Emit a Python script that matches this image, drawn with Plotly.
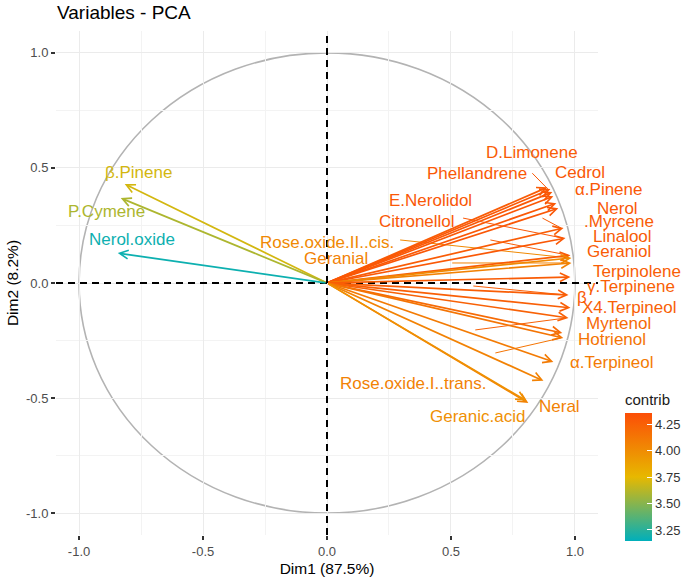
import plotly.graph_objects as go
from plotly.colors import sample_colorscale

# ---------------- data ----------------
variables = ["D.Limonene", "Phellandrene", "Cedrol", "α.Pinene", "E.Nerolidol", "Nerol",
             "β.Myrcene", "Citronellol", "Linalool", "Rose.oxide.II..cis.", "Geranial",
             "Geraniol", "Terpinolene", "γ.Terpinene", "X4.Terpineol", "Myrtenol",
             "Hotrienol", "α.Terpineol", "Rose.oxide.I..trans.", "Neral", "Geranic.acid",
             "β.Pinene", "P.Cymene", "Nerol.oxide"]
dim1 = [0.889, 0.901, 0.909, 0.913, 0.925, 0.933, 0.954, 0.962, 0.982, 0.986, 0.986,
        0.982, 0.974, 0.982, 0.974, 0.949, 0.953, 0.913, 0.873, 0.812, 0.804,
        -0.816, -0.832, -0.844]
dim2 = [0.416, 0.408, 0.395, 0.377, 0.347, 0.325, 0.239, 0.195, 0.121, 0.109, 0.087,
        0.026, -0.052, -0.108, -0.152, -0.217, -0.239, -0.343, -0.425, -0.521, -0.512,
        0.430, 0.369, 0.130]
contrib = [4.28, 4.30, 4.30, 4.30, 4.30, 4.31, 4.28, 4.30, 4.28, 4.02, 4.06,
           4.28, 4.27, 4.26, 4.25, 4.20, 4.14, 4.10, 4.06, 4.06, 3.98,
           3.70, 3.60, 3.18]
label_text = ["D.Limonene", "Phellandrene", "Cedrol", "α.Pinene", "E.Nerolidol", "Nerol",
              ".Myrcene", "Citronellol", "Linalool", "Rose.oxide.II..cis.", "Geranial",
              "Geraniol", "Terpinolene", "γ.Terpinene", "X4.Terpineol", "Myrtenol",
              "Hotrienol", "α.Terpineol", "Rose.oxide.I..trans.", "Neral", "Geranic.acid",
              "β.Pinene", "P.Cymene", "Nerol.oxide"]
x_ticks = [-1.0, -0.5, 0.0, 0.5, 1.0]
x_ticktext = ["-1.0", "-0.5", "0.0", "0.5", "1.0"]
y_ticks = [-1.0, -0.5, 0.0, 0.5, 1.0]
y_ticktext = ["-1.0", "-0.5", "0.0", "0.5", "1.0"]
cb_ticks = [3.25, 3.50, 3.75, 4.00, 4.25]
cb_ticktext = ["3.25", "3.50", "3.75", "4.00", "4.25"]

# ---------------- layout helpers (label placement, repel result) ----------------
# left edge / vertical centre of each label in data units
label_pos = [(0.634, 0.568), (0.396, 0.477), (0.913, 0.482), (0.994, 0.408), (0.242, 0.360),
             (1.079, 0.325), (1.030, 0.269), (0.202, 0.269), (1.063, 0.204), (-0.279, 0.178),
             (-0.101, 0.108), (1.042, 0.139), (1.063, 0.052), (1.042, -0.017), (1.022, -0.108),
             (1.038, -0.174), (1.006, -0.247), (0.974, -0.347), (0.044, -0.438), (0.848, -0.538),
             (0.408, -0.581), (-0.905, 0.482), (-1.051, 0.312), (-0.966, 0.191)]
# leader segments: (start x, start y, variable index)
leaders = [(0.828, 0.477, 1), (0.549, 0.282, 7), (0.869, 0.282, 6), (0.295, 0.187, 9),
           (0.659, 0.187, 8), (0.505, 0.087, 10), (0.590, -0.013, 12), (0.598, -0.204, 14),
           (0.679, -0.304, 16)]
stray_beta = (1.002, -0.065)

FONT = "Liberation Sans, Arial, sans-serif"
cmin, cmax = 3.145, 4.36
cscale = [[0.0, "#00AFBB"], [0.5, "#E7B800"], [1.0, "#FC4E07"]]
cols = sample_colorscale(cscale, [(c - cmin) / (cmax - cmin) for c in contrib])

XR = [-1.093, 1.093]
YR = [-1.095, 1.095]

W, H = 685, 577
ML, MR, MT, MB = 56, 87, 31, 42
PH = H - MT - MB

fig = go.Figure()

# invisible markers carrying the colour scale
fig.add_trace(go.Scatter(
    x=dim1, y=dim2, mode="markers", hoverinfo="skip", showlegend=False,
    marker=dict(size=1, opacity=0, color=contrib, colorscale=cscale, cmin=cmin, cmax=cmax,
                showscale=True,
                colorbar=dict(title=dict(text="contrib", side="top",
                                         font=dict(size=15, color="#1a1a1a", family=FONT)),
                              thickness=27, len=150, lenmode="pixels",
                              x=(625 - ML) / (W - ML - MR), xanchor="left", xpad=0,
                              y=(H - MB - 541) / PH, yanchor="bottom", ypad=0,
                              tickvals=cb_ticks, ticktext=cb_ticktext,
                              ticks="inside", ticklen=5, tickcolor="white",
                              tickfont=dict(size=13, color="#333333", family=FONT),
                              outlinewidth=0))))

shapes = []
# correlation circle
shapes.append(dict(type="circle", xref="x", yref="y", x0=-1, y0=-1, x1=1, y1=1,
                   line=dict(color="#B3B3B3", width=1.6), layer="below"))
# dashed axes through the origin
shapes.append(dict(type="line", xref="x", yref="y", x0=0, x1=0, y0=YR[0], y1=YR[1],
                   line=dict(color="black", width=2, dash="7px,5px")))
shapes.append(dict(type="line", xref="x", yref="y", x0=XR[0], x1=XR[1], y0=0, y1=0,
                   line=dict(color="black", width=2, dash="7px,5px")))
# leader segments
for sx, sy, i in leaders:
    shapes.append(dict(type="line", xref="x", yref="y", x0=sx, y0=sy,
                       x1=dim1[i] - 0.01, y1=dim2[i],
                       line=dict(color=cols[i], width=1)))

annotations = []
for i in range(len(variables)):
    annotations.append(dict(x=dim1[i], y=dim2[i], ax=0, ay=0, xref="x", yref="y",
                            axref="x", ayref="y", text="", showarrow=True,
                            arrowhead=5, arrowsize=1.0, arrowwidth=1.7,
                            arrowcolor=cols[i], standoff=0))
for i in range(len(variables)):
    lx, ly = label_pos[i]
    annotations.append(dict(x=lx, y=ly, xref="x", yref="y", text=label_text[i],
                            showarrow=False, xanchor="left", yanchor="middle",
                            font=dict(size=17, color=cols[i], family=FONT)))
annotations.append(dict(x=stray_beta[0], y=stray_beta[1], xref="x", yref="y", text="β",
                        showarrow=False, xanchor="left", yanchor="middle",
                        font=dict(size=17, color=cols[6], family=FONT)))

axis_common = dict(showgrid=True, gridcolor="#EBEBEB", gridwidth=1.4, zeroline=False,
                   ticks="outside", ticklen=4, tickwidth=2, tickcolor="#333333",
                   tickfont=dict(size=13, color="#4D4D4D", family=FONT),
                   showline=False, fixedrange=True,
                   minor=dict(tickmode="linear", tick0=0, dtick=0.25, showgrid=True,
                              gridcolor="#F3F3F3", gridwidth=0.9))

fig.update_layout(
    width=W, height=H,
    margin=dict(l=ML, r=MR, t=MT, b=MB, autoexpand=False),
    paper_bgcolor="white", plot_bgcolor="white",
    font=dict(family=FONT, color="black"),
    title=dict(text="Variables - PCA", xref="container", yref="container",
               x=57 / W, xanchor="left", y=1 - 12 / H, yanchor="middle",
               font=dict(size=19, color="black", family=FONT)),
    xaxis=dict(range=XR, tickmode="array", tickvals=x_ticks, ticktext=x_ticktext,
               title=dict(text="Dim1 (87.5%)", font=dict(size=15.5, color="black"), standoff=5),
               **axis_common),
    yaxis=dict(range=YR, tickmode="array", tickvals=y_ticks, ticktext=y_ticktext,
               title=dict(text="Dim2 (8.2%)", font=dict(size=15.5, color="black"), standoff=3),
               **axis_common),
    shapes=shapes, annotations=annotations, showlegend=False,
)

# remove the browser's default 8px body margin so the figure fills the window
fig.write_html("out.html", config={"displayModeBar": False},
               post_script="document.body.style.margin='0';")
